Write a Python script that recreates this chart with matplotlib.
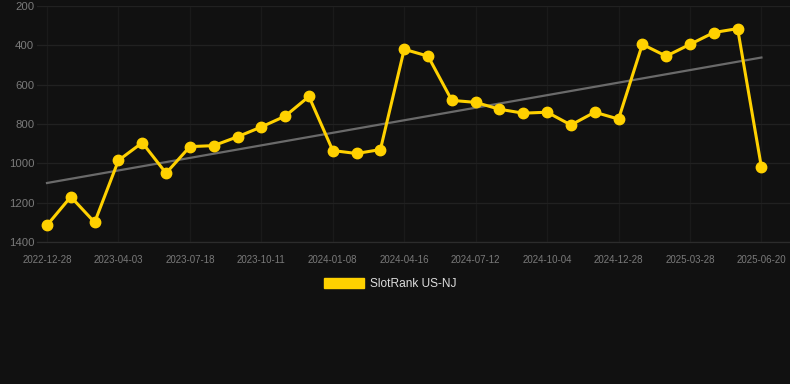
import numpy as np
import matplotlib
matplotlib.use("Agg")
import matplotlib.pyplot as plt
from matplotlib.patches import Patch

# data
dates = ["2022-12-28", "2023-01-29", "2023-03-02", "2023-04-03", "2023-05-08",
         "2023-06-12", "2023-07-18", "2023-08-15", "2023-09-13", "2023-10-11",
         "2023-11-10", "2023-12-10", "2024-01-08", "2024-02-14", "2024-03-16",
         "2024-04-16", "2024-05-15", "2024-06-13", "2024-07-12", "2024-08-09",
         "2024-09-06", "2024-10-04", "2024-11-01", "2024-11-29", "2024-12-28",
         "2025-01-28", "2025-02-27", "2025-03-28", "2025-04-24", "2025-05-22",
         "2025-06-20"]
rank = [1315, 1170, 1300, 985, 895, 1050, 915, 910, 865, 815, 760, 660,
        935, 950, 930, 420, 455, 680, 690, 725, 745, 740, 805, 740, 775,
        395, 455, 395, 335, 315, 1020]
trend_ends = [1100, 462]

tick_idx = list(range(0, len(dates), 3))
y_ticks = [200, 400, 600, 800, 1000, 1200, 1400]

BG = "#111111"
YELLOW = "#FFD100"
TXT = "#7a7a7a"

fig = plt.figure(figsize=(7.9, 3.84), dpi=100, facecolor=BG)
ax = fig.add_axes([37 / 790, 1 - 242 / 384, 1 - 37 / 790, 236 / 384])
ax.set_facecolor(BG)

x = np.arange(len(rank))
ax.plot([x[0], x[-1]], trend_ends, color="#6a6a6a", lw=1.6, zorder=2)
ax.plot(x, rank, color=YELLOW, lw=2.2, marker="o", ms=7.5, zorder=3)

ax.set_ylim(1400, 200)
ax.set_xlim(-0.42, 31.2)
ax.set_yticks(y_ticks)
ax.set_yticklabels([str(v) for v in y_ticks])
ax.set_xticks(tick_idx)
ax.set_xticklabels([dates[i] for i in tick_idx])

for s in ax.spines.values():
    s.set_visible(False)
ax.spines["bottom"].set_visible(True)
ax.spines["bottom"].set_color("#2c2c2c")
ax.spines["bottom"].set_linewidth(0.9)
ax.grid(True, axis="y", color="#212121", lw=0.9)
ax.grid(True, axis="x", color="#1a1a1a", lw=0.9)
ax.set_axisbelow(True)
ax.tick_params(axis="y", length=0, pad=2, labelsize=8.2, labelcolor=TXT)
ax.tick_params(axis="x", length=0, pad=9.5, labelsize=7, labelcolor=TXT)
for lab in ax.get_xticklabels() + ax.get_yticklabels():
    lab.set_fontfamily("Liberation Sans")

leg = fig.legend(handles=[Patch(facecolor=YELLOW, edgecolor=YELLOW)],
                 labels=["SlotRank US-NJ"], loc="center",
                 bbox_to_anchor=(0.494, 1 - 284 / 384), frameon=False,
                 handlelength=3.3, handleheight=0.9, handletextpad=0.5,
                 prop={"family": "Liberation Sans", "size": 8.6})
for t in leg.get_texts():
    t.set_color("#dddddd")

fig.savefig("out.png", dpi=100, facecolor=BG)
